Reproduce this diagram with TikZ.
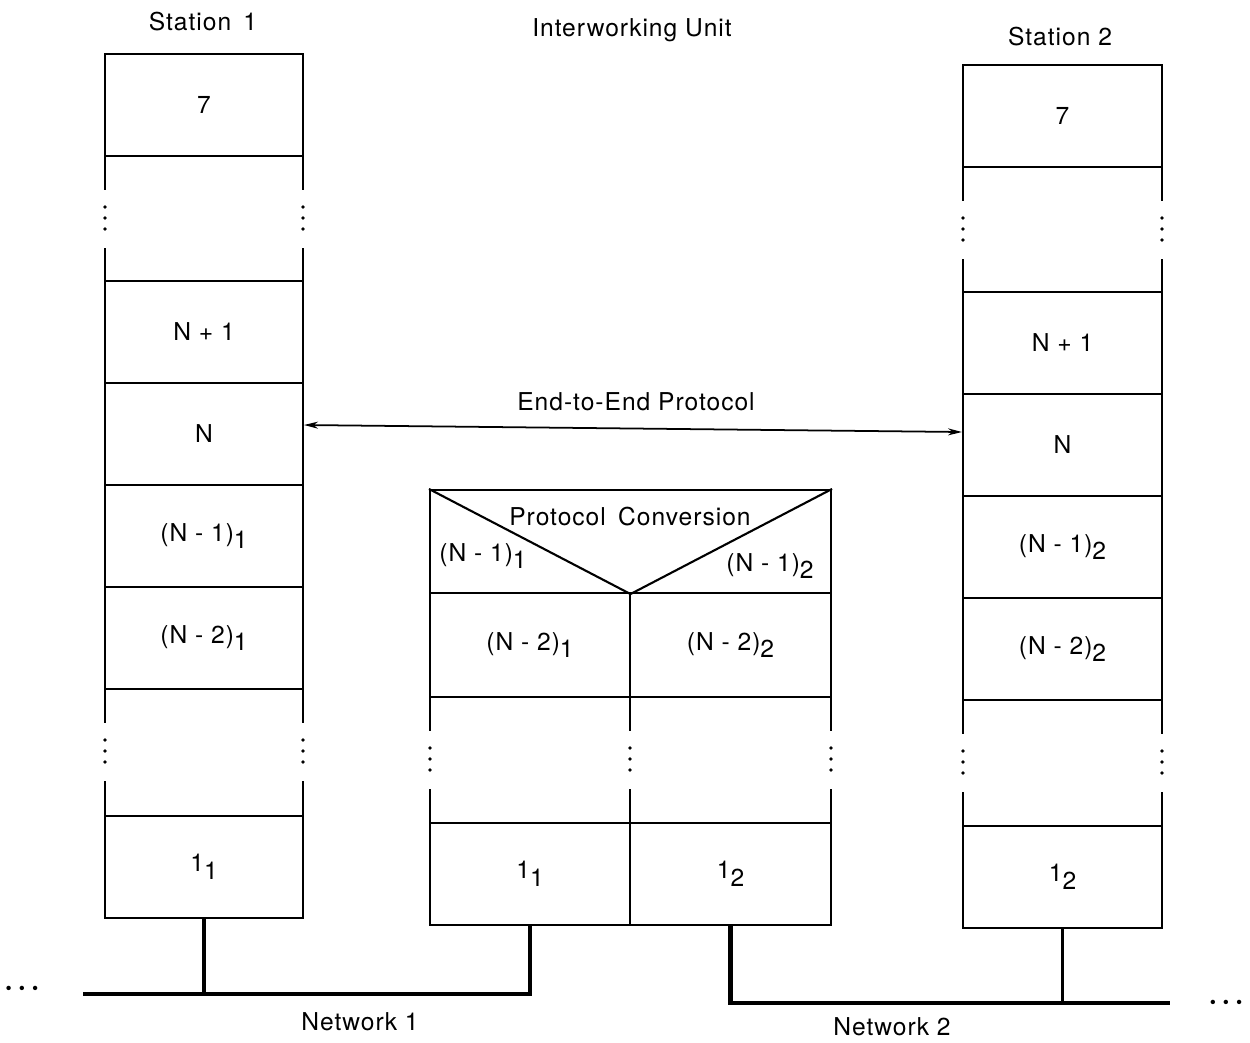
\documentclass[tikz,border=0pt]{standalone}
\usepackage{fontspec}
\setmainfont{TeX Gyre Heros}[LetterSpace=4]
\usetikzlibrary{arrows.meta}

\begin{document}
\begin{tikzpicture}[x=0.02cm,y=-0.02cm,>={Stealth[length=0.28cm,width=0.14cm]},
    font=\fontsize{14}{16}\selectfont,
    layer/.style={draw,line width=1.2pt,inner sep=0pt,minimum height=2.04cm},
    stone/.style={layer,minimum width=3.96cm},
    sttwo/.style={layer,minimum width=3.98cm},
    side/.style={line width=1.2pt},
    bus/.style={line width=2.6pt},
    drop/.style={line width=2.1pt}]
    \def\lo#1{\raisebox{-0.6ex}{#1}}
    \def\more{{\fontsize{10}{10}\selectfont\textbullet\hspace{4pt}\textbullet\hspace{4pt}\textbullet}}
    \useasboundingbox (0,0) rectangle (1250,1042);

    % headings
    \node (st1) at (203,22) {Station\enspace 1};
    \node (iwu) at (632,30) {Interworking Unit};
    \node (st2) at (1060,37) {Station 2};

    % station 1
    \node[stone] (s1top) at (204,105) {7};
    \node[stone] (s1np) at (204,332) {N + 1};
    \node[stone] (s1n) at (204,434) {N};
    \node[stone] (s1nm) at (204,536) {(N - 1)\lo{1}};
    \node[stone] (s1nmm) at (204,638) {(N - 2)\lo{1}};
    \node[stone] (s1one) at (204,867) {1\lo{1}};

    % station 2
    \node[sttwo] (s2top) at (1062.5,116) {7};
    \node[sttwo] (s2np) at (1062.5,343) {N + 1};
    \node[sttwo] (s2n) at (1062.5,445) {N};
    \node[sttwo] (s2nm) at (1062.5,547) {(N - 1)\lo{2}};
    \node[sttwo] (s2nmm) at (1062.5,649) {(N - 2)\lo{2}};
    \node[sttwo] (s2one) at (1062.5,877) {1\lo{2}};

    % interworking unit
    \node[layer,minimum width=8.02cm,minimum height=2.06cm] (iwutop) at (630.5,541.5) {};
    \draw[side] (iwutop.north west) -- (iwutop.south) -- (iwutop.north east);
    \node (pconv) at (630,517) {Protocol\enspace Conversion};
    \node (iwunma) at (483,556) {(N - 1)\lo{1}};
    \node (iwunmb) at (770,566) {(N - 1)\lo{2}};
    \node[layer,minimum width=4cm,minimum height=2.08cm] (iwunmma) at (530,645) {(N - 2)\lo{1}};
    \node[layer,minimum width=4.02cm,minimum height=2.08cm] (iwunmmb) at (730.5,645) {(N - 2)\lo{2}};
    \node[layer,minimum width=4cm] (iwuone) at (530,874) {1\lo{1}};
    \node[layer,minimum width=4.02cm] (iwutwo) at (730.5,874) {1\lo{2}};

    % dotted layers: broken sides
    \foreach \x/\y in {105/156,303/156,105/689,303/689,963/167,1162/167,
                       963/700,1162/700,430/697,630/697,831/697} {
        \draw[side] (\x,\y) -- (\x,{\y+34}) (\x,{\y+92}) -- (\x,{\y+126});
        \foreach \d in {51,62,73}
            \fill (\x,{\y+\d}) circle (1.05pt);
    }

    % end-to-end protocol
    \draw[<->,line width=1pt] ([yshift=0.18cm]s1n.east) -- ([yshift=0.26cm]s2n.west);
    \node (e2e) at (636,402) {End-to-End Protocol};

    % networks
    \coordinate (n1w) at (83,994);
    \coordinate (n2e) at (1170,1003);
    \draw[bus] (n1w) -- (iwuone.south |- n1w) -- (iwuone.south);
    \draw[drop] (s1one.south) -- (s1one.south |- n1w);
    \draw[bus] (iwutwo.south) -- (iwutwo.south |- n2e) -- (n2e);
    \draw[drop] (s2one.south) -- (s2one.south |- n2e);
    \node (ldots) at (22,990) {\more};
    \node (rdots) at (1226,1004) {\more};
    \node (net1) at (360,1022) {Network 1};
    \node (net2) at (892,1027) {Network 2};
\end{tikzpicture}
\end{document}
